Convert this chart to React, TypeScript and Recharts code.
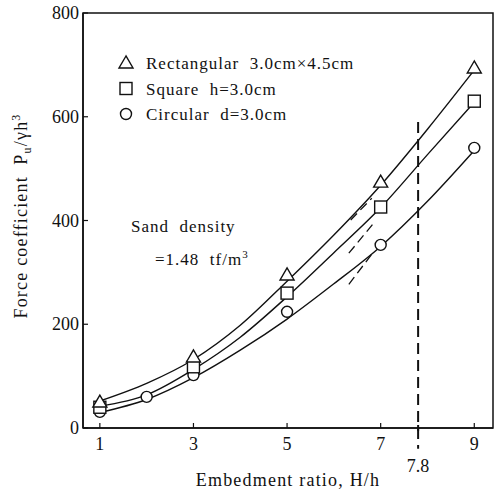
import React from 'react';
import {
  ComposedChart,
  Line,
  Scatter,
  XAxis,
  YAxis,
  ReferenceLine,
  ReferenceArea,
} from 'recharts';

const FONT = '"Liberation Serif", "DejaVu Serif", serif';
const INK = '#111';

// measured points
const rectPoints = [
  { x: 1, y: 50 },
  { x: 3, y: 137 },
  { x: 5, y: 295 },
  { x: 7, y: 474 },
  { x: 9, y: 694 },
];
const squarePoints = [
  { x: 1, y: 40 },
  { x: 3, y: 118 },
  { x: 5, y: 260 },
  { x: 7, y: 426 },
  { x: 9, y: 630 },
];
const circlePoints = [
  { x: 1, y: 31 },
  { x: 2, y: 60 },
  { x: 3, y: 102 },
  { x: 5, y: 224 },
  { x: 7, y: 353 },
  { x: 9, y: 540 },
];

// fitted curves, read at each H/h
const curveX = [1, 2, 3, 4, 5, 6, 7, 8, 9];
const rectCurve = [52, 86, 132, 198, 283, 372, 468, 576, 690];
const squareCurve = [42, 64, 113, 175, 253, 338, 425, 527, 628];
const circleCurve = [30, 55, 97, 150, 210, 278, 350, 437, 535];

// short dashed trend strokes next to each curve
const rectDash = [{ x: 6.36, y: 401 }, { x: 6.81, y: 443 }];
const squareDash = [{ x: 6.32, y: 337 }, { x: 6.87, y: 397 }];
const circleDash = [{ x: 6.32, y: 277 }, { x: 6.81, y: 335 }];

const criticalRatio = 7.8;
const criticalTop = 590;

const xTicks = [1, 3, 5, 7, 7.8, 9];
const yTicks = [0, 200, 400, 600, 800];
const xDomain = [0.64, 9.4];
const yDomain = [0, 800];

const legendItems = [
  { shape: 'triangle', label: 'Rectangular  3.0cm\u00d74.5cm' },
  { shape: 'square', label: 'Square  h=3.0cm' },
  { shape: 'circle', label: 'Circular  d=3.0cm' },
];

const toCurve = (ys: number[]) => curveX.map((x, i) => ({ x, y: ys[i] }));

const Marker = ({ kind, cx, cy }: { kind: string; cx: number; cy: number }) => {
  if (kind === 'triangle') {
    return (
      <polygon
        points={`${cx},${cy - 7} ${cx - 7},${cy + 5} ${cx + 7},${cy + 5}`}
        fill="#fff"
        stroke={INK}
        strokeWidth={1.4}
      />
    );
  }
  if (kind === 'square') {
    return <rect x={cx - 6} y={cy - 6} width={12} height={12} fill="#fff" stroke={INK} strokeWidth={1.4} />;
  }
  return <circle cx={cx} cy={cy} r={5.5} fill="#fff" stroke={INK} strokeWidth={1.4} />;
};

const XTick = ({ x, y, payload }: any) => {
  const special = payload.value === criticalRatio;
  return (
    <g>
      {special ? (
        <line x1={x} y1={y - 3} x2={x} y2={y + 3} stroke={INK} strokeWidth={2} />
      ) : (
        <line x1={x} y1={y} x2={x} y2={y - 5} stroke={INK} strokeWidth={1.2} />
      )}
      <text x={x} y={special ? y + 44 : y + 22} textAnchor="middle" fontSize={18} fontFamily={FONT} fill={INK}>
        {payload.value}
      </text>
    </g>
  );
};

const YTick = ({ x, y, payload }: any) => (
  <g>
    <line x1={x} y1={y} x2={x + 5} y2={y} stroke={INK} strokeWidth={1.2} />
    <text x={x - 4} y={y + 6} textAnchor="end" fontSize={18} fontFamily={FONT} fill={INK}>
      {payload.value}
    </text>
  </g>
);

const YLabel = () => (
  <text
    x={27}
    y={216}
    transform="rotate(-90, 27, 216)"
    textAnchor="middle"
    fontSize={18}
    fontFamily={FONT}
    fill={INK}
    letterSpacing={1.2}
    style={{ whiteSpace: 'pre' }}
  >
    Force coefficient  P
    <tspan fontSize={12} dy={4}>u</tspan>
    <tspan dy={-4}>/γh</tspan>
    <tspan fontSize={12} dy={-7}>3</tspan>
  </text>
);

export default function App() {
  return (
    <div style={{ position: 'absolute', left: 0, top: 0, width: 504, height: 491, background: '#fff' }}>
      <ComposedChart width={504} height={491} margin={{ top: 13, right: 11, left: 0, bottom: 0 }}>
        <XAxis
          type="number"
          dataKey="x"
          domain={xDomain}
          ticks={xTicks}
          allowDataOverflow
          height={63}
          tickSize={0}
          tickMargin={0}
          tick={<XTick />}
          axisLine={{ stroke: INK, strokeWidth: 1.5 }}
          label={{
            value: 'Embedment ratio,  H/h',
            position: 'insideBottom',
            offset: 5,
            fontSize: 18,
            fontFamily: FONT,
            fill: INK,
            letterSpacing: 1.2,
            style: { whiteSpace: 'pre' },
          }}
        />
        <YAxis
          type="number"
          domain={yDomain}
          ticks={yTicks}
          allowDataOverflow
          width={83}
          tickSize={0}
          tickMargin={0}
          tick={<YTick />}
          axisLine={{ stroke: INK, strokeWidth: 1.5 }}
          label={{ content: () => <YLabel /> }}
        />
        <ReferenceArea
          x1={xDomain[0]}
          x2={xDomain[1]}
          y1={yDomain[0]}
          y2={yDomain[1]}
          fill="none"
          stroke={INK}
          strokeWidth={1.5}
        />

        <Line data={toCurve(rectCurve)} dataKey="y" type="monotone" stroke={INK} strokeWidth={1.4} dot={false} isAnimationActive={false} />
        <Line data={toCurve(squareCurve)} dataKey="y" type="monotone" stroke={INK} strokeWidth={1.4} dot={false} isAnimationActive={false} />
        <Line data={toCurve(circleCurve)} dataKey="y" type="monotone" stroke={INK} strokeWidth={1.4} dot={false} isAnimationActive={false} />

        <ReferenceLine segment={rectDash} stroke={INK} strokeWidth={1.3} strokeDasharray="9 5" />
        <ReferenceLine segment={squareDash} stroke={INK} strokeWidth={1.3} strokeDasharray="9 5" />
        <ReferenceLine segment={circleDash} stroke={INK} strokeWidth={1.3} strokeDasharray="9 5" />

        <ReferenceLine
          segment={[
            { x: criticalRatio, y: criticalTop },
            { x: criticalRatio, y: -40 },
          ]}
          ifOverflow="visible"
          stroke={INK}
          strokeWidth={2}
          strokeDasharray="11 6"
        />

        <Scatter data={circlePoints} dataKey="y" isAnimationActive={false} shape={(p: any) => <Marker kind="circle" cx={p.cx} cy={p.cy} />} />
        <Scatter data={squarePoints} dataKey="y" isAnimationActive={false} shape={(p: any) => <Marker kind="square" cx={p.cx} cy={p.cy} />} />
        <Scatter data={rectPoints} dataKey="y" isAnimationActive={false} shape={(p: any) => <Marker kind="triangle" cx={p.cx} cy={p.cy} />} />
      </ComposedChart>

      {/* legend and sand note drawn over the plot */}
      <svg width={504} height={491} style={{ position: 'absolute', left: 0, top: 0, pointerEvents: 'none' }}>
        {legendItems.map((item, i) => {
          const cy = 63 + i * 25.5;
          return (
            <g key={item.shape}>
              <Marker kind={item.shape} cx={126} cy={cy} />
              <text
                x={146}
                y={cy + 6}
                fontSize={17}
                fontFamily={FONT}
                fill={INK}
                letterSpacing={1}
                style={{ whiteSpace: 'pre' }}
              >
                {item.label}
              </text>
            </g>
          );
        })}
        <text x={131} y={232} fontSize={17} fontFamily={FONT} fill={INK} letterSpacing={1} style={{ whiteSpace: 'pre' }}>
          Sand  density
        </text>
        <text x={155} y={265} fontSize={17} fontFamily={FONT} fill={INK} letterSpacing={1} style={{ whiteSpace: 'pre' }}>
          =1.48  tf/m
          <tspan fontSize={11} dy={-7}>3</tspan>
        </text>
      </svg>
    </div>
  );
}
